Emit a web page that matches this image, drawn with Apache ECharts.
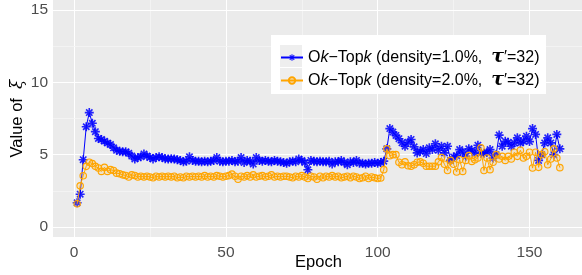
<!DOCTYPE html>
<html>
<head>
<meta charset="utf-8">
<script src="https://cdn.jsdelivr.net/npm/echarts@6/dist/echarts.min.js"></script>
<style>
html, body { margin: 0; padding: 0; background: #fff; }
#chart { width: 582px; height: 275px; }
</style>
</head>
<body>
<div id="chart"></div>
<script>
// values, epoch 1..160
var density1 = [
    1.67, 2.26, 4.65, 6.93, 7.91, 7.17, 6.59, 6.12, 6.05, 5.93,
    5.8, 5.7, 5.47, 5.3, 5.23, 5.2, 5.2, 5.1, 4.9, 4.7,
    4.8, 4.85, 5.05, 4.9, 4.8, 4.7, 4.8, 4.85, 4.8, 4.72,
    4.7, 4.72, 4.7, 4.65, 4.6, 4.5, 4.55, 4.85, 4.6, 4.55,
    4.55, 4.5, 4.55, 4.5, 4.55, 4.6, 4.8, 4.55, 4.5, 4.55,
    4.55, 4.6, 4.5, 4.55, 4.8, 4.45, 4.6, 4.55, 4.35, 4.8,
    4.6, 4.55, 4.6, 4.55, 4.5, 4.6, 4.55, 4.5, 4.45, 4.4,
    4.5, 4.55, 4.5, 4.7, 4.6, 4.45, 3.95, 4.6, 4.55, 4.5,
    4.55, 4.5, 4.5, 4.55, 4.35, 4.5, 4.5, 4.6, 4.45, 4.3,
    4.5, 4.45, 4.6, 4.4, 4.4, 4.35, 4.4, 4.4, 4.45, 4.4,
    4.45, 4.55, 5.4, 6.8, 6.56, 6.33, 6.1, 5.82, 5.58, 5.86,
    6.05, 5.54, 5.12, 5.23, 5.35, 5.07, 5.47, 5.35, 5.75, 5.3,
    5.58, 5.12, 5.58, 4.6, 4.84, 4.93, 5.35, 5.16, 4.88, 5.4,
    5.3, 5.1, 5.65, 5.1, 5.1, 5.16, 5.35, 4.77, 5.0, 6.35,
    5.58, 5.93, 5.86, 5.58, 5.81, 6.16, 5.81, 5.93, 6.28, 5.9,
    6.8, 6.4, 4.6, 5.0, 5.81, 6.16, 5.81, 5.0, 6.4, 5.4
];
var density2 = [
    1.6, 2.84, 3.54, 4.19, 4.47, 4.38, 4.19, 4.07, 3.84, 4.12,
    3.84, 3.96, 3.9, 3.72, 3.68, 3.6, 3.56, 3.45, 3.6, 3.56,
    3.45, 3.5, 3.45, 3.5, 3.45, 3.4, 3.5, 3.45, 3.5, 3.45,
    3.5, 3.45, 3.5, 3.4, 3.45, 3.4, 3.5, 3.45, 3.5, 3.45,
    3.5, 3.45, 3.55, 3.45, 3.5, 3.45, 3.55, 3.5, 3.45, 3.5,
    3.55, 3.65, 3.5, 3.3, 3.5, 3.45, 3.55, 3.45, 3.6, 3.45,
    3.5, 3.55, 3.45, 3.5, 3.6, 3.45, 3.5, 3.45, 3.5, 3.5,
    3.45, 3.4, 3.5, 3.45, 3.55, 3.45, 3.35, 3.5, 3.45, 3.3,
    3.5, 3.4, 3.5, 3.45, 3.55, 3.45, 3.5, 3.4, 3.45, 3.5,
    3.4, 3.5, 3.45, 3.35, 3.4, 3.5, 3.35, 3.45, 3.4, 3.35,
    3.38, 3.96, 5.4, 4.93, 5.0, 5.0, 4.47, 4.3, 4.5, 4.23,
    4.2, 4.3, 4.47, 4.5, 4.4, 4.2, 4.2, 4.2, 4.2, 4.5,
    4.8, 4.33, 3.9, 4.6, 4.33, 3.8, 4.65, 3.84, 4.6, 4.93,
    4.53, 4.65, 4.77, 5.47, 3.9, 4.77, 3.96, 4.47, 5.0, 4.7,
    4.88, 4.6, 4.88, 4.7, 5.16, 4.88, 5.3, 4.77, 4.88, 5.16,
    4.07, 5.16, 4.12, 5.0, 5.2, 4.3, 4.7, 5.4, 4.77, 4.1
];
var xTicks = [0, 50, 100, 150];
var xMinor = [25, 75, 125];
var yTicks = [0, 5, 10, 15];
var yMinor = [2.5, 7.5, 12.5];

var nameA = "Ok-Topk (density=1.0%, t'=32)";
var nameB = "Ok-Topk (density=2.0%, t'=32)";
var legendText = {};
legendText[nameA] = "{n|O}{i|k}{n|\u2212Top}{i|k}{n| (density=1.0%,  }{t|\u03C4}{n|\u2032=32)}";
legendText[nameB] = "{n|O}{i|k}{n|\u2212Top}{i|k}{n| (density=2.0%,  }{t|\u03C4}{n|\u2032=32)}";

function pairs(vals) {
    return vals.map(function (v, i) { return [i + 1, v]; });
}

var asterisk = "path://M-10,-1.8L10,-1.8L10,1.8L-10,1.8Z" +
    "M-1.8,-10L1.8,-10L1.8,10L-1.8,10Z" +
    "M-8.34,-5.8L-5.8,-8.34L8.34,5.8L5.8,8.34Z" +
    "M-5.8,8.34L-8.34,5.8L5.8,-8.34L8.34,-5.8Z";

var major = { color: "#ffffff", width: 1.1, type: "solid" };
var minor = { color: "#f5f5f5", width: 0.8, type: "solid" };
var gridLines = [];
xTicks.forEach(function (v) { gridLines.push({ xAxis: v, lineStyle: major }); });
xMinor.forEach(function (v) { gridLines.push({ xAxis: v, lineStyle: minor }); });
yTicks.forEach(function (v) { gridLines.push({ yAxis: v, lineStyle: major }); });
yMinor.forEach(function (v) { gridLines.push({ yAxis: v, lineStyle: minor }); });

var font = "Liberation Sans";
var option = {
    animation: false,
    grid: {
        left: 53, top: 0, width: 531, height: 237,
        show: true, backgroundColor: "#ebebeb", borderWidth: 0,
        outerBoundsMode: "none"
    },
    xAxis: {
        type: "value", min: -6.95, max: 167.95,
        name: "Epoch", nameLocation: "middle", nameGap: 17, nameMoveOverlap: false,
        nameTextStyle: { color: "#000", fontSize: 16.5, fontFamily: font },
        axisLine: { show: false },
        axisTick: { show: true, length: 3.5, customValues: xTicks, lineStyle: { color: "#333", width: 1 } },
        axisLabel: { customValues: xTicks, margin: 8, color: "#4d4d4d", fontSize: 15.5, fontFamily: font },
        splitLine: { show: false }
    },
    yAxis: {
        type: "value", min: -0.7, max: 15.7,
        name: "Value of  {x|\u03BE}", nameLocation: "middle", nameRotate: 90, nameGap: 27, nameMoveOverlap: false,
        nameTextStyle: {
            color: "#000", fontSize: 16.5, fontFamily: font,
            rich: { x: { fontSize: 17, fontFamily: "DejaVu Serif", fontStyle: "italic", color: "#000" } }
        },
        axisLine: { show: false },
        axisTick: { show: true, length: 3.5, customValues: yTicks, lineStyle: { color: "#333", width: 1 } },
        axisLabel: { customValues: yTicks, margin: 5, color: "#4d4d4d", fontSize: 15.5, fontFamily: font },
        splitLine: { show: false }
    },
    legend: {
        orient: "vertical", left: 271, top: 35,
        padding: [13, 7, 2, 9],
        itemWidth: 22, itemHeight: 8, itemGap: 4,
        z: 5,
        data: [nameA, nameB],
        formatter: function (name) { return legendText[name]; },
        textStyle: {
            fontFamily: font, fontSize: 16, color: "#000", lineHeight: 19,
            rich: {
                n: { fontFamily: font, fontSize: 16, color: "#000" },
                i: { fontFamily: font, fontSize: 16, fontStyle: "italic", color: "#000" },
                t: { fontFamily: "DejaVu Serif", fontSize: 19, fontStyle: "italic", fontWeight: "bold", color: "#000" }
            }
        }
    },
    graphic: [
        { type: "rect", z: 4, shape: { x: 271, y: 35, width: 275, height: 59 }, style: { fill: "#ffffff" } },
        { type: "rect", z: 4, shape: { x: 280, y: 45, width: 22, height: 22 }, style: { fill: "#eeeeee" } },
        { type: "rect", z: 4, shape: { x: 280, y: 68, width: 22, height: 22 }, style: { fill: "#eeeeee" } }
    ],
    series: [
        {
            type: "line", name: "grid", data: [], silent: true, z: 1,
            markLine: { silent: true, symbol: "none", z: 1, animation: false, label: { show: false }, data: gridLines }
        },
        {
            type: "line", name: nameA, data: pairs(density1), z: 2,
            symbol: asterisk, symbolSize: 9,
            lineStyle: { color: "#0000ff", width: 1 },
            itemStyle: { color: "#0000ff", opacity: 0.85 }
        },
        {
            type: "line", name: nameB, data: pairs(density2), z: 3,
            symbol: "circle", symbolSize: 6.5,
            lineStyle: { color: "#ffa500", width: 1 },
            itemStyle: { color: "rgba(255,165,0,0.15)", borderColor: "#ffa500", borderWidth: 1.1 }
        }
    ]
};
echarts.init(document.getElementById("chart")).setOption(option);
</script>
</body>
</html>
